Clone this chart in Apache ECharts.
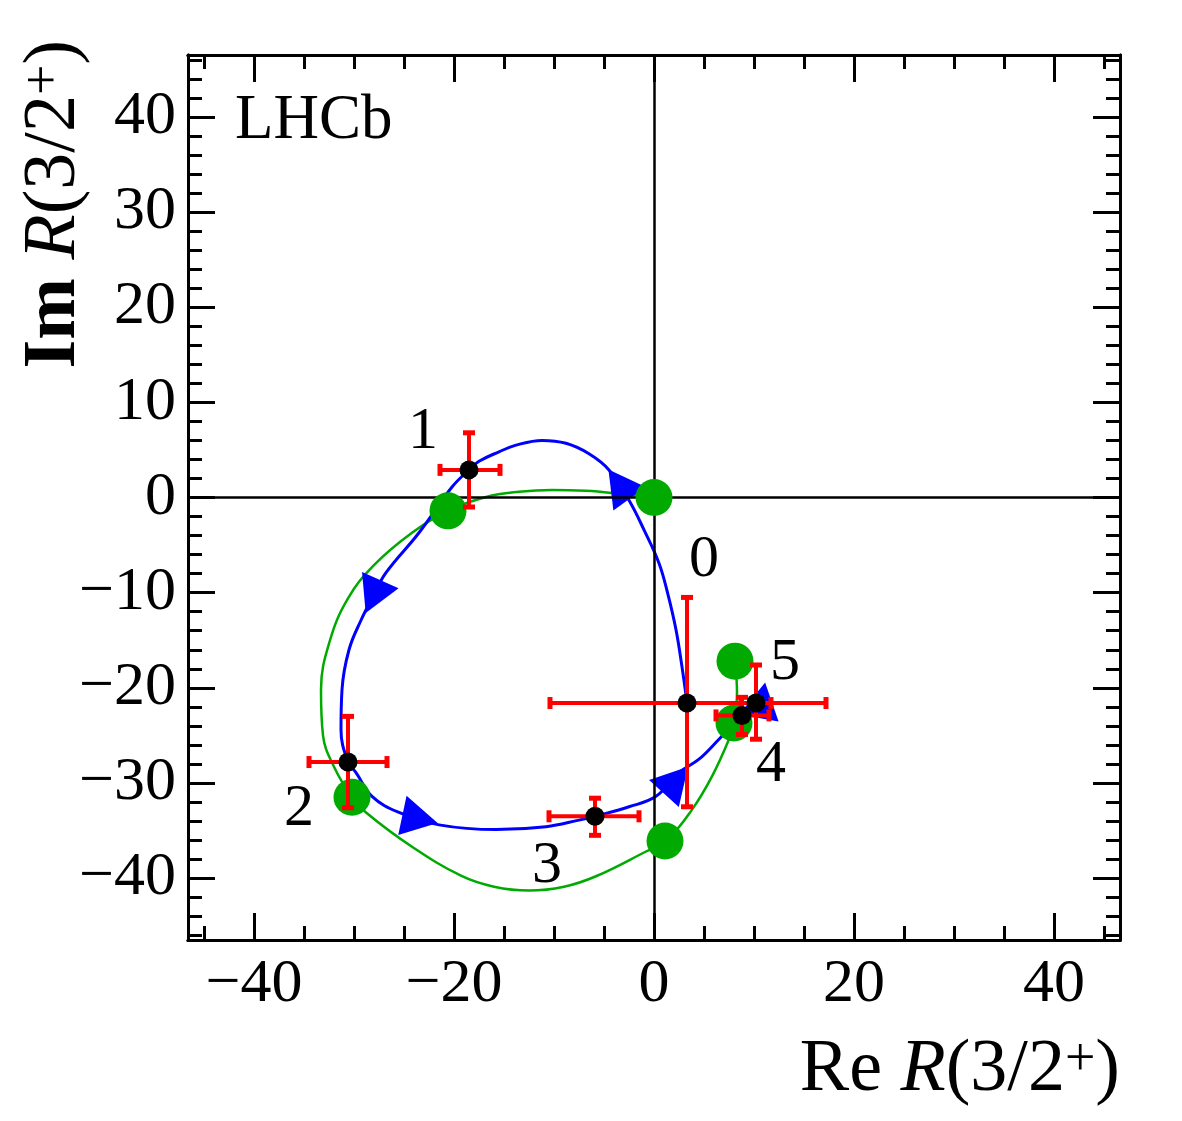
<!DOCTYPE html>
<html>
<head>
<meta charset="utf-8">
<script src="https://cdn.jsdelivr.net/npm/echarts@6/dist/echarts.min.js"></script>
<style>
html, body { margin: 0; padding: 0; background: #fff; }
#chart { width: 1182px; height: 1121px; }
</style>
</head>
<body>
<div id="chart"></div>
<script>
// measured points (black) with errors
const ptNames = ['0', '1', '2', '3', '4', '5']
const ptX = [3.3, -18.5, -30.6, -5.9, 8.8, 10.2]
const ptY = [-21.6, 2.9, -27.8, -33.5, -22.9, -21.6]
const errXlo = [-10.4, -21.4, -34.5, -10.5, 6.2, 8.7]
const errXhi = [17.2, -15.4, -26.7, -1.5, 11.5, 11.7]
const errYlo = [-32.5, -1.0, -32.6, -35.5, -24.9, -25.4]
const errYhi = [-10.5, 6.8, -23.0, -31.6, -21.0, -17.6]

// label anchors for point numbers
const labelX = [5.0, -23.1, -35.5, -10.7, 11.7, 13.1]
const labelY = [-6.6, 6.9, -32.8, -38.7, -28.1, -17.4]

// model points (green) and model curve
const fitX = [0.0, -20.6, -30.2, 1.1, 8.0, 8.1]
const fitY = [0.0, -1.4, -31.5, -36.1, -23.7, -17.2]
const greenX = [0.0, -3.5, -6.8, -10.2, -13.5, -16.8, -20.6, -24.2, -28.0, -30.6, -32.4, -33.3, -33.1, -32.0, -30.2, -28.8, -24.2, -19.2, -16.0, -12.5, -9.0, -5.8, -0.8, 1.2, 3.8, 5.8, 7.5, 8.0, 8.3, 8.1]
const greenY = [0.0, 0.4, 0.7, 0.8, 0.6, 0.05, -1.4, -3.7, -7.1, -10.6, -15.0, -20.2, -25.0, -28.3, -31.5, -33.1, -36.7, -39.8, -40.9, -41.3, -40.9, -39.8, -37.2, -36.1, -32.8, -29.3, -25.4, -23.7, -20.5, -17.2]

// interpolating curve (blue) through measured points
const blueX = [3.3, 2.8, 2.2, 1.4, 0.5, -1.0, -2.5, -4.5, -6.5, -8.8, -11.2, -13.8, -15.5, -17.5, -18.5, -20.2, -23.5, -26.8, -28.1, -29.3, -30.5, -31.2, -31.3, -30.6, -29.8, -28.2, -25.5, -21.5, -15.8, -10.8, -7.5, -5.9, -2.5, 0.2, 2.5, 4.5, 6.5, 8.8, 10.2]
const blueY = [-21.6, -17.8, -13.9, -10.2, -6.9, -3.4, -0.3, 2.9, 4.6, 5.7, 6.0, 5.5, 4.8, 3.8, 2.9, 1.1, -3.7, -7.9, -10.4, -12.9, -16.0, -20.2, -24.4, -27.8, -28.9, -31.4, -33.1, -34.4, -34.9, -34.6, -33.9, -33.5, -32.5, -31.4, -28.9, -27.5, -25.4, -22.9, -21.6]

// direction arrows on the blue curve
const arrowX = [-3.5, -28.1, -23.4, 2.2, 10.8]
const arrowY = [1.4, -10.4, -33.8, -29.7, -21.3]
const arrowAngle = [126, 246, -12, 48, 80]

// ticks
const xMajor = [-40, -20, 0, 20, 40]
const xMinor = [-45, -35, -30, -25, -15, -10, -5, 5, 10, 15, 25, 30, 35, 45]
const yMajor = [-40, -30, -20, -10, 0, 10, 20, 30, 40]
const yMinor = [-46, -44, -42, -38, -36, -34, -32, -28, -26, -24, -22, -18, -16, -14, -12, -8, -6, -4, -2, 2, 4, 6, 8, 12, 14, 16, 18, 22, 24, 26, 28, 32, 34, 36, 38, 42, 44, 46]

const font = "'Liberation Serif', 'Times New Roman', serif"
const green = '#00aa00'
const fmt = v => (v < 0 ? '\u2212' + Math.abs(v) : String(v))

const makeAxis = (position, min, max, ticks, len, withLabels, margin) => ({
    type: 'value',
    position,
    min,
    max,
    axisLine: { show: true, onZero: false, lineStyle: { color: '#000', width: 3 } },
    axisTick: { show: true, inside: true, length: len, customValues: ticks, lineStyle: { color: '#000', width: 3 } },
    axisLabel: withLabels
        ? { show: true, customValues: ticks, formatter: fmt, fontFamily: font, fontSize: 62, color: '#000', margin }
        : { show: false },
    splitLine: { show: false },
    minorTick: { show: false }
})

const pairs = (xs, ys) => xs.map((x, i) => [x, ys[i]])

const titleRich = {
    n: { fontSize: 74, fontFamily: font, fill: '#000' },
    b: { fontSize: 74, fontFamily: font, fontWeight: 'bold', fill: '#000' },
    i: { fontSize: 74, fontFamily: font, fontStyle: 'italic', fill: '#000' },
    s: { fontSize: 54, fontFamily: font, fill: '#000', verticalAlign: 'top' }
}

const chart = echarts.init(document.getElementById('chart'))

const option = {
    animation: false,
    backgroundColor: '#fff',
    grid: { left: 188, top: 55, right: 62, bottom: 181, outerBoundsMode: 'none' },
    xAxis: [
        makeAxis('bottom', -46.6, 46.6, xMajor, 27, true, 14),
        makeAxis('bottom', -46.6, 46.6, xMinor, 14, false),
        makeAxis('top', -46.6, 46.6, xMajor, 27, false),
        makeAxis('top', -46.6, 46.6, xMinor, 14, false)
    ],
    yAxis: [
        makeAxis('left', -46.5, 46.5, yMajor, 27, true, 12),
        makeAxis('left', -46.5, 46.5, yMinor, 14, false),
        makeAxis('right', -46.5, 46.5, yMajor, 27, false),
        makeAxis('right', -46.5, 46.5, yMinor, 14, false)
    ],
    graphic: [
        {
            type: 'text', x: 235, y: 90,
            style: { text: 'LHCb', font: `63px ${font}`, fill: '#000', align: 'left', verticalAlign: 'top' }
        },
        {
            type: 'text', x: 1120, y: 1108,
            style: { text: '{n|Re }{i|R}{n|(3/2}{s|+}{n|)}', align: 'right', verticalAlign: 'bottom', rich: titleRich }
        },
        {
            type: 'text', x: 55, y: 40, rotation: Math.PI / 2,
            style: { text: '{b|Im }{i|R}{n|(3/2}{s|+}{n|)}', align: 'right', verticalAlign: 'middle', rich: titleRich }
        }
    ],
    series: [
        {
            name: 'model',
            type: 'line',
            z: 2,
            data: pairs(greenX, greenY),
            smooth: 0.4,
            showSymbol: false,
            lineStyle: { color: green, width: 2.5 },
            emphasis: { disabled: true },
            markLine: {
                silent: true,
                symbol: 'none',
                label: { show: false },
                lineStyle: { color: '#000', width: 2.5, type: 'solid' },
                emphasis: { disabled: true },
                data: [{ xAxis: 0 }, { yAxis: 0 }]
            }
        },
        {
            name: 'interp',
            type: 'line',
            z: 3,
            data: pairs(blueX, blueY),
            smooth: 0.4,
            showSymbol: false,
            lineStyle: { color: '#0000ff', width: 3 },
            emphasis: { disabled: true }
        },
        {
            name: 'arrows',
            type: 'scatter',
            z: 4,
            symbol: 'triangle',
            symbolSize: [40, 36],
            itemStyle: { color: '#0000ff', opacity: 1 },
            emphasis: { disabled: true },
            data: arrowX.map((x, i) => ({ value: [x, arrowY[i]], symbolRotate: arrowAngle[i] - 90 }))
        },
        {
            name: 'model points',
            type: 'scatter',
            z: 5,
            symbolSize: 37,
            itemStyle: { color: green, opacity: 1 },
            emphasis: { disabled: true },
            data: pairs(fitX, fitY)
        },
        {
            name: 'errors',
            type: 'custom',
            z: 6,
            encode: { x: 0, y: 1 },
            data: ptX.map((x, i) => [x, ptY[i], errXlo[i], errXhi[i], errYlo[i], errYhi[i]]),
            renderItem: (params, api) => {
                const l = api.coord([api.value(2), api.value(1)])
                const r = api.coord([api.value(3), api.value(1)])
                const b = api.coord([api.value(0), api.value(4)])
                const t = api.coord([api.value(0), api.value(5)])
                const cap = 6
                const bar = { stroke: '#ff0000', lineWidth: 4 }
                const capStyle = { stroke: '#ff0000', lineWidth: 5 }
                return {
                    type: 'group',
                    children: [
                        { type: 'line', shape: { x1: l[0], y1: l[1], x2: r[0], y2: r[1] }, style: bar },
                        { type: 'line', shape: { x1: b[0], y1: b[1], x2: t[0], y2: t[1] }, style: bar },
                        { type: 'line', shape: { x1: l[0], y1: l[1] - cap, x2: l[0], y2: l[1] + cap }, style: capStyle },
                        { type: 'line', shape: { x1: r[0], y1: r[1] - cap, x2: r[0], y2: r[1] + cap }, style: capStyle },
                        { type: 'line', shape: { x1: b[0] - cap, y1: b[1], x2: b[0] + cap, y2: b[1] }, style: capStyle },
                        { type: 'line', shape: { x1: t[0] - cap, y1: t[1], x2: t[0] + cap, y2: t[1] }, style: capStyle }
                    ]
                }
            }
        },
        {
            name: 'points',
            type: 'scatter',
            z: 7,
            symbolSize: 19,
            itemStyle: { color: '#000', opacity: 1 },
            emphasis: { disabled: true },
            data: pairs(ptX, ptY)
        },
        {
            name: 'numbers',
            type: 'scatter',
            z: 8,
            symbolSize: 0,
            itemStyle: { color: '#000', opacity: 1 },
            emphasis: { disabled: true },
            label: { show: true, position: 'inside', formatter: '{b}', fontFamily: font, fontSize: 60, color: '#000', opacity: 1 },
            data: labelX.map((x, i) => ({ value: [x, labelY[i]], name: ptNames[i] }))
        }
    ]
}

chart.setOption(option)
</script>
</body>
</html>
